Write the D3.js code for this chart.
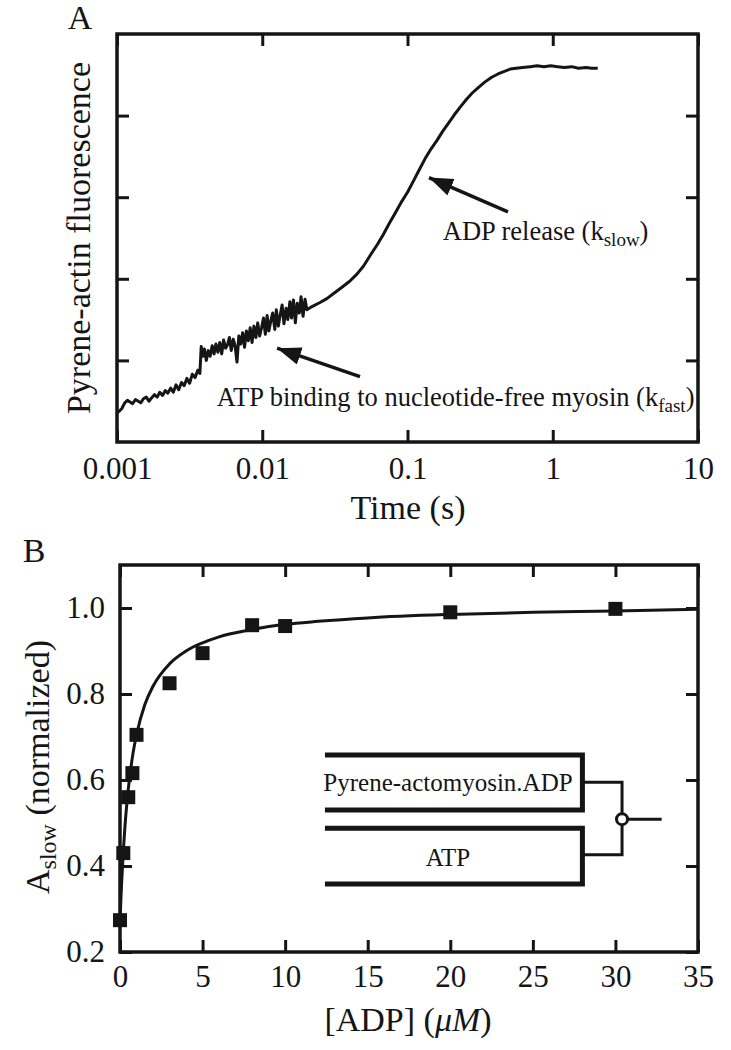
<!DOCTYPE html>
<html><head><meta charset="utf-8">
<script src="https://cdn.jsdelivr.net/npm/d3@7"></script>
<style>body{margin:0;background:#fff}</style>
</head><body>
<svg id="chart" width="731" height="1050"></svg>
<script>
// ---------- Panel A data ----------
const timeA = [
0.00100,0.00104,0.00108,0.00113,0.00118,0.00123,0.00128,0.00134,0.00140,0.00146,
0.00152,0.00159,0.00166,0.00173,0.00181,0.00189,0.00197,0.00206,0.00215,0.00224,
0.00234,0.00244,0.00255,0.00266,0.00278,0.00290,0.00303,0.00316,0.00330,0.00345,
0.00360,0.00372,0.00380,0.00390,0.00400,0.00412,0.00425,0.00438,0.00452,0.00466,
0.00480,0.00495,0.00510,0.00526,0.00542,0.00559,0.00576,0.00594,0.00612,0.00631,
0.00650,0.00670,0.00690,0.00711,0.00733,0.00755,0.00778,0.00802,0.00826,0.00851,
0.00877,0.00904,0.00931,0.00960,0.00989,0.0102,0.0105,0.0108,0.0111,0.0115,
0.0118,0.0122,0.0125,0.0129,0.0133,0.0137,0.0141,0.0146,0.0150,0.0155,
0.0159,0.0164,0.0169,0.0174,0.0180,0.0185,0.0191,0.0197,0.0203,
0.022,0.025,0.028,0.031,0.035,0.040,0.045,0.050,0.056,0.062,
0.068,0.075,0.082,0.090,0.100,0.110,0.120,0.132,0.145,0.160,
0.175,0.190,0.210,0.232,0.255,0.280,0.310,0.340,0.380,0.420,
0.460,0.510,0.560,0.620,0.700,0.780,0.870,0.970,1.08,1.20,
1.35,1.50,1.70,1.85,2.04];
const fluorA = [
0.36,0.38,0.41,0.48,0.51,0.49,0.47,0.52,0.50,0.48,
0.53,0.55,0.50,0.54,0.58,0.55,0.61,0.57,0.63,0.60,
0.66,0.61,0.70,0.64,0.73,0.69,0.78,0.72,0.83,0.79,
0.88,0.84,1.17,1.05,1.14,1.00,1.12,1.05,1.18,1.08,
1.20,1.10,1.22,1.08,1.25,1.15,1.19,1.28,1.12,1.26,
1.18,0.98,1.30,1.20,1.34,1.16,1.36,1.24,1.40,1.22,
1.42,1.28,1.46,1.30,1.40,1.52,1.32,1.55,1.36,1.50,
1.58,1.38,1.62,1.42,1.56,1.68,1.45,1.64,1.50,1.72,
1.52,1.74,1.46,1.70,1.58,1.78,1.54,1.75,1.62,
1.66,1.71,1.76,1.82,1.89,1.97,2.06,2.16,2.30,2.42,
2.54,2.68,2.80,2.93,3.06,3.20,3.33,3.47,3.59,3.70,
3.81,3.90,4.01,4.11,4.20,4.28,4.35,4.41,4.47,4.51,
4.54,4.57,4.58,4.59,4.60,4.61,4.60,4.61,4.60,4.59,
4.60,4.58,4.59,4.58,4.58];
const timeTicksA = [0.001, 0.01, 0.1, 1, 10];
const timeTickLabelsA = ["0.001", "0.01", "0.1", "1", "10"];
const fluorTicksA = [1, 2, 3, 4];

// ---------- Panel B data ----------
const adpB = [0, 0.2, 0.5, 0.75, 1, 3, 5, 8, 10, 20, 30];
const aslowB = [0.274, 0.43, 0.56, 0.616, 0.705, 0.825, 0.895, 0.96, 0.958, 0.99, 0.998];
const fitX = [0,0.05,0.1,0.2,0.3,0.5,0.75,1,1.5,2,3,4,5,6,8,10,12,15,20,25,30,35];
const fitY = [0.27,0.319,0.362,0.434,0.492,0.578,0.653,0.705,0.775,0.818,0.870,0.900,0.919,0.933,0.950,0.962,0.969,0.977,0.985,0.990,0.993,0.997];
const adpTicks = [0, 5, 10, 15, 20, 25, 30, 35];
const aslowTicks = [0.2, 0.4, 0.6, 0.8, 1.0];
const aslowTickLabels = ["0.2", "0.4", "0.6", "0.8", "1.0"];

const FONT = "'Liberation Serif', 'Times New Roman', serif";
const INK = "#151515";
const svg = d3.select("#chart");

svg.append("defs").append("marker")
  .attr("id", "ah").attr("markerUnits", "userSpaceOnUse")
  .attr("markerWidth", 26).attr("markerHeight", 20)
  .attr("refX", 24).attr("refY", 9).attr("orient", "auto")
  .append("path").attr("d", "M0,0 L24,9 L0,18 Z").attr("fill", INK);

function styleAxis(g, size) {
  g.select(".domain").remove();
  g.selectAll(".tick line").attr("stroke", INK).attr("stroke-width", 3);
  g.selectAll(".tick text").attr("fill", INK);
  g.attr("font-family", FONT).attr("font-size", size);
}

// ================= Panel A =================
const xA = d3.scaleLog().domain([0.001, 10]).range([117, 698]);
const yA = d3.scaleLinear().domain([0, 5]).range([442, 34]);

svg.append("g").attr("transform", "translate(0,442)")
  .call(d3.axisBottom(xA).tickValues(timeTicksA).tickFormat((d, i) => timeTickLabelsA[i])
    .tickSizeInner(-12).tickSizeOuter(0).tickPadding(15))
  .call(g => styleAxis(g, 31));
svg.append("g").attr("transform", "translate(0,34)")
  .call(d3.axisTop(xA).tickValues(timeTicksA).tickFormat("").tickSizeInner(-12).tickSizeOuter(0))
  .call(g => styleAxis(g, 31));
svg.append("g").attr("transform", "translate(117,0)")
  .call(d3.axisLeft(yA).tickValues(fluorTicksA).tickFormat("").tickSizeInner(-12).tickSizeOuter(0))
  .call(g => styleAxis(g, 31));
svg.append("g").attr("transform", "translate(698,0)")
  .call(d3.axisRight(yA).tickValues(fluorTicksA).tickFormat("").tickSizeInner(-12).tickSizeOuter(0))
  .call(g => styleAxis(g, 31));
svg.append("rect").attr("x", 117).attr("y", 34).attr("width", 698 - 117).attr("height", 442 - 34)
  .attr("fill", "none").attr("stroke", INK).attr("stroke-width", 3.5);

const lineA = d3.line().x((d, i) => xA(timeA[i])).y((d, i) => yA(fluorA[i]));
svg.append("path").datum(fluorA).attr("d", lineA)
  .attr("fill", "none").attr("stroke", INK).attr("stroke-width", 3).attr("stroke-linejoin", "round");

// annotations A
svg.append("line").attr("x1", xA(0.492)).attr("y1", yA(2.82)).attr("x2", xA(0.1406)).attr("y2", yA(3.24))
  .attr("stroke", INK).attr("stroke-width", 3.5).attr("marker-end", "url(#ah)");
svg.append("line").attr("x1", xA(0.0471)).attr("y1", yA(0.80)).attr("x2", xA(0.01265)).attr("y2", yA(1.15))
  .attr("stroke", INK).attr("stroke-width", 3.5).attr("marker-end", "url(#ah)");

function subText(x, y, main, sub, size, subSize) {
  const t = svg.append("text").attr("x", x).attr("y", y).attr("font-family", FONT)
    .attr("font-size", size).attr("fill", INK);
  t.append("tspan").text(main);
  t.append("tspan").attr("font-size", subSize).attr("dy", 6).text(sub);
  t.append("tspan").attr("dy", -6).text(")");
  return t;
}
subText(xA(0.175), yA(2.48), "ADP release (k", "slow", 26.5, 19);
subText(xA(0.00487), yA(0.44), "ATP binding to nucleotide-free myosin (k", "fast", 26.5, 19);

svg.append("text").attr("transform", "translate(90,238) rotate(-90)").attr("text-anchor", "middle")
  .attr("font-family", FONT).attr("font-size", 34).attr("fill", INK).text("Pyrene-actin fluorescence");
svg.append("text").attr("x", 408).attr("y", 519).attr("text-anchor", "middle")
  .attr("font-family", FONT).attr("font-size", 34).attr("fill", INK).text("Time (s)");
svg.append("text").attr("x", 80).attr("y", 29).attr("text-anchor", "middle")
  .attr("font-family", FONT).attr("font-size", 34).attr("fill", INK).text("A");

// ================= Panel B =================
const xB = d3.scaleLinear().domain([0, 35]).range([120, 698]);
const yB = d3.scaleLinear().domain([0.2, 1.1]).range([952, 565]);

svg.append("g").attr("transform", "translate(0,952)")
  .call(d3.axisBottom(xB).tickValues(adpTicks).tickFormat(d3.format("d"))
    .tickSizeInner(-12).tickSizeOuter(0).tickPadding(13))
  .call(g => styleAxis(g, 31));
svg.append("g").attr("transform", "translate(0,565)")
  .call(d3.axisTop(xB).tickValues(adpTicks).tickFormat("").tickSizeInner(-12).tickSizeOuter(0))
  .call(g => styleAxis(g, 31));
svg.append("g").attr("transform", "translate(120,0)")
  .call(d3.axisLeft(yB).tickValues(aslowTicks).tickFormat((d, i) => aslowTickLabels[i])
    .tickSizeInner(-12).tickSizeOuter(0).tickPadding(15))
  .call(g => styleAxis(g, 31));
svg.append("g").attr("transform", "translate(698,0)")
  .call(d3.axisRight(yB).tickValues(aslowTicks).tickFormat("").tickSizeInner(-12).tickSizeOuter(0))
  .call(g => styleAxis(g, 31));
svg.append("rect").attr("x", 120).attr("y", 565).attr("width", 698 - 120).attr("height", 952 - 565)
  .attr("fill", "none").attr("stroke", INK).attr("stroke-width", 3.5);

const lineB = d3.line().curve(d3.curveMonotoneX).x((d, i) => xB(fitX[i])).y((d, i) => yB(fitY[i]));
svg.append("path").datum(fitY).attr("d", lineB)
  .attr("fill", "none").attr("stroke", INK).attr("stroke-width", 3);

const sq = 14;
svg.append("g").selectAll("rect").data(adpB).join("rect")
  .attr("x", (d) => xB(d) - sq / 2).attr("y", (d, i) => yB(aslowB[i]) - sq / 2)
  .attr("width", sq).attr("height", sq).attr("fill", INK);

// inset diagram (in data coordinates)
const boxL = 12.41, boxR = 28.0;
const upTop = 0.658, upBot = 0.530, loTop = 0.488, loBot = 0.358;
const connX = 30.4, connUp = 0.595, connLo = 0.426, circY = 0.509, outX = 32.8;
function openBox(top, bot) {
  return `M${xB(boxL)},${yB(top)} L${xB(boxR)},${yB(top)} L${xB(boxR)},${yB(bot)} L${xB(boxL)},${yB(bot)}`;
}
svg.append("path").attr("d", openBox(upTop, upBot)).attr("fill", "none").attr("stroke", INK).attr("stroke-width", 5);
svg.append("path").attr("d", openBox(loTop, loBot)).attr("fill", "none").attr("stroke", INK).attr("stroke-width", 5);
svg.append("path")
  .attr("d", `M${xB(boxR)},${yB(connUp)} L${xB(connX)},${yB(connUp)} L${xB(connX)},${yB(connLo)} L${xB(boxR)},${yB(connLo)}`)
  .attr("fill", "none").attr("stroke", INK).attr("stroke-width", 3);
svg.append("line").attr("x1", xB(connX)).attr("y1", yB(circY)).attr("x2", xB(outX)).attr("y2", yB(circY))
  .attr("stroke", INK).attr("stroke-width", 3);
svg.append("circle").attr("cx", xB(connX)).attr("cy", yB(circY)).attr("r", 5.5)
  .attr("fill", "#fff").attr("stroke", INK).attr("stroke-width", 3);
svg.append("text").attr("x", xB(19.86)).attr("y", yB(0.593) + 8).attr("text-anchor", "middle")
  .attr("font-family", FONT).attr("font-size", 25).attr("fill", INK).text("Pyrene-actomyosin.ADP");
svg.append("text").attr("x", xB(19.86)).attr("y", yB(0.419) + 8).attr("text-anchor", "middle")
  .attr("font-family", FONT).attr("font-size", 25).attr("fill", INK).text("ATP");

// labels B
const yl = svg.append("text").attr("transform", "translate(49,767) rotate(-90)").attr("text-anchor", "middle")
  .attr("font-family", FONT).attr("font-size", 34).attr("fill", INK);
yl.append("tspan").text("A");
yl.append("tspan").attr("font-size", 24).attr("dy", 7).text("slow");
yl.append("tspan").attr("dy", -7).text(" (normalized)");

const xl = svg.append("text").attr("x", 408).attr("y", 1031).attr("text-anchor", "middle")
  .attr("font-family", FONT).attr("font-size", 34).attr("fill", INK);
xl.append("tspan").text("[ADP] (");
xl.append("tspan").attr("font-style", "italic").text("\u03BCM");
xl.append("tspan").text(")");

svg.append("text").attr("x", 34).attr("y", 562).attr("text-anchor", "middle")
  .attr("font-family", FONT).attr("font-size", 34).attr("fill", INK).text("B");
</script>
</body></html>
